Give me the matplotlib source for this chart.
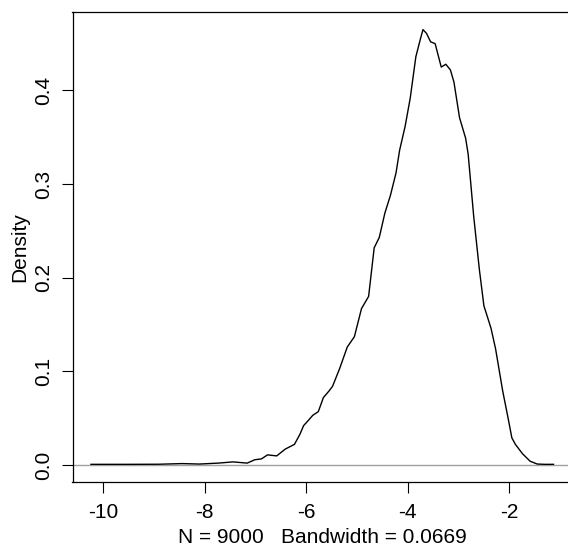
import matplotlib
matplotlib.use("Agg")
import matplotlib.pyplot as plt

plt.rcParams['font.family'] = ['Liberation Sans', 'DejaVu Sans']

# density curve (x, density)
x_vals = [-10.235, -9.5, -8.9, -8.44, -8.1, -7.73, -7.44, -7.16, -7.01, -6.88,
          -6.76, -6.58, -6.41, -6.23, -6.12, -6.05, -5.95, -5.87, -5.76, -5.66,
          -5.55, -5.48, -5.34, -5.19, -5.05, -4.91, -4.77, -4.66, -4.56, -4.45,
          -4.34, -4.23, -4.16, -4.05, -3.95, -3.84, -3.75, -3.70, -3.63, -3.55,
          -3.46, -3.34, -3.25, -3.16, -3.09, -2.98, -2.86, -2.81, -2.70, -2.59,
          -2.50, -2.36, -2.27, -2.13, -2.02, -1.95, -1.88, -1.74, -1.59, -1.45,
          -1.30, -1.13]
dens_vals = [0.0007, 0.0007, 0.0008, 0.0015, 0.0010, 0.0020, 0.0033, 0.0020, 0.0056, 0.0065,
             0.0108, 0.0097, 0.0170, 0.0220, 0.0330, 0.0420, 0.0480, 0.0530, 0.0570, 0.0720,
             0.0790, 0.0840, 0.1030, 0.1260, 0.1370, 0.1670, 0.1800, 0.2320, 0.2430, 0.2690,
             0.2880, 0.3120, 0.3360, 0.3620, 0.3920, 0.4360, 0.4550, 0.4650, 0.4610, 0.4520,
             0.4500, 0.4250, 0.4280, 0.4220, 0.4090, 0.3710, 0.3490, 0.3320, 0.2650, 0.2090,
             0.1700, 0.1460, 0.1240, 0.0790, 0.0490, 0.0290, 0.0220, 0.0120, 0.0040, 0.0010,
             0.0007, 0.0007]

x_ticks = [-10, -8, -6, -4, -2]
x_tick_labels = ["-10", "-8", "-6", "-4", "-2"]
y_ticks = [0.0, 0.1, 0.2, 0.3, 0.4]
y_tick_labels = ["0.0", "0.1", "0.2", "0.3", "0.4"]
x_label = "N = 9000   Bandwidth = 0.0669"
y_label = "Density"

W, H = 568, 547
fig = plt.figure(figsize=(W / 100, H / 100), dpi=100)
left, right, top, bottom = 72.5, 572.0, 12.2, 482.4
ax = fig.add_axes([left / W, 1 - bottom / H, (right - left) / W, (bottom - top) / H])

ax.axhline(0, color="#a0a0a0", lw=1.0, zorder=1)
ax.plot(x_vals, dens_vals, color="black", lw=1.0, zorder=2)

xmin, xmax = min(x_vals), max(x_vals)
xr = xmax - xmin
ymax = max(dens_vals)
ax.set_xlim(xmin - 0.04 * xr, xmax + 0.04 * xr)
ax.set_ylim(-0.04 * ymax, ymax * 1.04)

ax.set_xticks(x_ticks)
ax.set_xticklabels(x_tick_labels)
ax.set_yticks(y_ticks)
ax.set_yticklabels(y_tick_labels, rotation=90, va="center")

ax.tick_params(axis="both", direction="out", length=7.7, width=0.8, labelsize=15, colors="black")
ax.tick_params(axis="x", pad=7)
ax.tick_params(axis="y", pad=6)

for s in ax.spines.values():
    s.set_linewidth(0.9)
    s.set_color("black")

ax.set_xlabel(x_label, fontsize=15, labelpad=4.5)
ax.set_ylabel(y_label, fontsize=15, labelpad=3.5)

fig.savefig("out.png", dpi=100)
